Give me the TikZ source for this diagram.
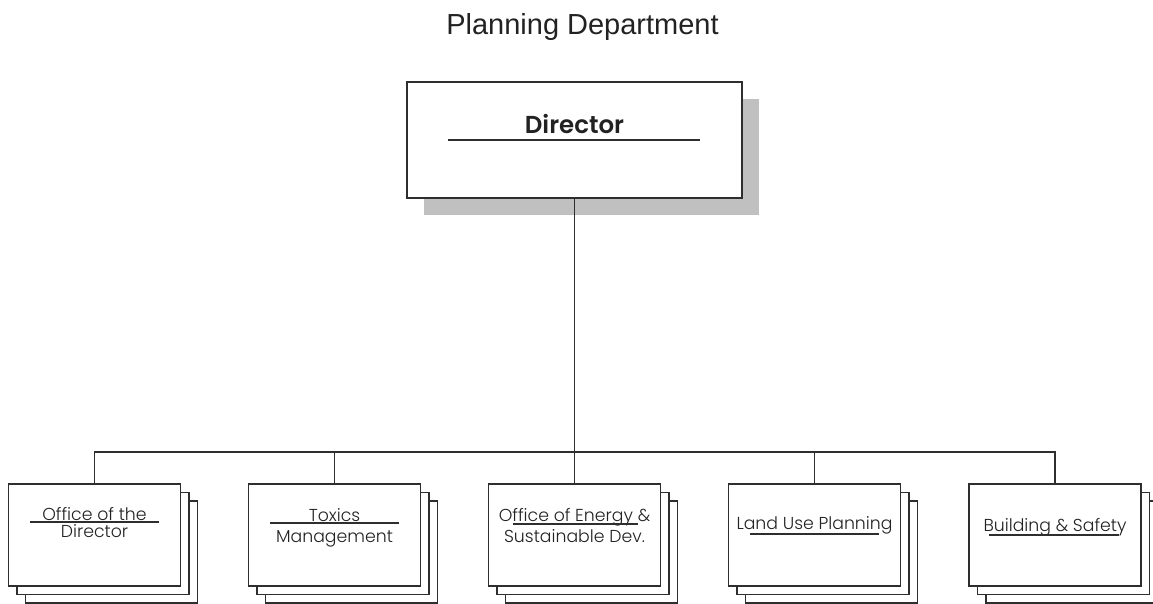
\documentclass[tikz,border=0pt]{standalone}
\usepackage{fontspec}
\setmainfont{Poppins}
\newfontfamily\titlefont{Liberation Sans}
\newfontfamily\lightfont{Poppins Light}
\newfontfamily\semifont{Poppins SemiBold}
\definecolor{ink}{HTML}{222222}
\definecolor{edge}{HTML}{2E2E2E}
\definecolor{shade}{HTML}{C0C0C0}
\tikzset{
  unitbox/.style={draw=edge, line width=1.1pt, fill=white, minimum width=172pt, minimum height=102pt, inner sep=0pt},
  dirbox/.style={draw=edge, line width=1.1pt, fill=white, minimum width=335pt, minimum height=116pt, inner sep=0pt},
  shadowbox/.style={fill=shade, minimum width=335pt, minimum height=116pt, inner sep=0pt},
  conn/.style={draw=edge, line width=1.1pt},
  uline/.style={draw=edge, line width=1.1pt},
  lbl/.style={text=ink, inner sep=0pt, font=\lightfont\fontsize{17.3}{21}\selectfont, anchor=base},
  dirlbl/.style={text=ink, inner sep=0pt, font=\semifont\fontsize{24.5}{28}\selectfont, anchor=base},
  titlelbl/.style={text=ink, inner sep=0pt, font=\titlefont\fontsize{29}{34}\selectfont, anchor=base}
}
\begin{document}
\begin{tikzpicture}[x=1pt,y=-1pt]
\useasboundingbox (0,0) rectangle (1153,603);
\node[titlelbl] (title) at (582.5,34) {Planning Department};
% director
\node[shadowbox] (dirsh) at (591.5,157) {};
\node[dirbox] (dir) at (574.5,140) {};
\node[dirlbl] (dirt) at (574.5,133) {Director};
\draw[uline] (448,140) -- (700,140);
% unit boxes
\foreach \i/\x in {1/94.5,2/334.5,3/574.5,4/814.5,5/1055}{
  \node[unitbox] (b\i c) at (\x+17,552) {};
  \node[unitbox] (b\i b) at (\x+8.5,543.5) {};
  \node[unitbox] (b\i) at (\x,535) {};
}
% connectors
\coordinate (bus) at (574.5,452);
\draw[conn] (dir.south) -- (bus);
\foreach \i in {1,...,5}{
  \draw[conn] (b\i.north) |- (bus);
}
% texts
\node[lbl] (t1a) at (94.5,520) {Office of the};
\draw[uline] (30,522) -- (159,522);
\node[lbl] (t1b) at (94.5,537) {Director};
\node[lbl] (t2a) at (334.5,521) {Toxics};
\draw[uline] (270,523) -- (399,523);
\node[lbl] (t2b) at (334.5,542) {Management};
\node[lbl] (t3a) at (574.5,521) {Office of Energy \&};
\draw[uline] (513,524) -- (638,524);
\node[lbl] (t3b) at (574.5,542) {Sustainable Dev.};
\node[lbl] (t4) at (814.5,529) {Land Use Planning};
\draw[uline] (750,534) -- (879,534);
\node[lbl] (t5) at (1055,531) {Building \& Safety};
\draw[uline] (989,535) -- (1119,535);
\end{tikzpicture}
\end{document}
